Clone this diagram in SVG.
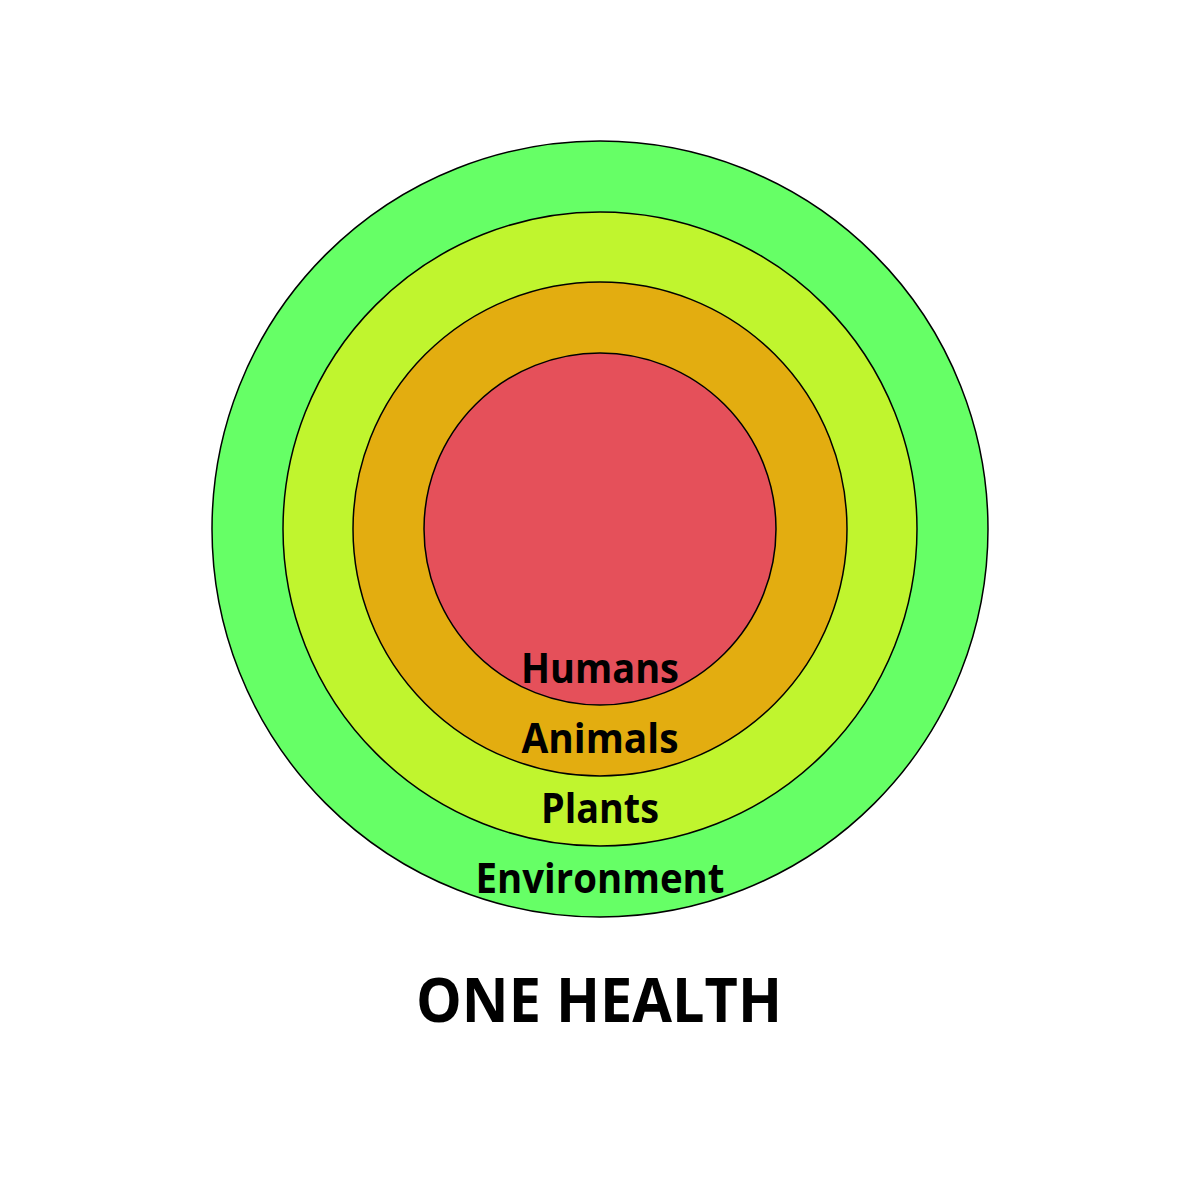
<svg xmlns="http://www.w3.org/2000/svg" width="1200" height="1200" viewBox="0 0 1200 1200">
<style>
circle{stroke:#000;stroke-width:1.5}
text{font-family:"Open Sans","Liberation Sans",sans-serif;font-weight:bold;fill:#000;text-anchor:middle}
.l{font-size:42px}
</style>
<rect width="1200" height="1200" fill="#fff"/>
<g id="environment"><circle cx="600" cy="529" r="388" fill="#66FF66"/></g>
<g id="plants"><circle cx="600" cy="529" r="317" fill="#C0F52E"/></g>
<g id="animals"><circle cx="600" cy="529" r="247" fill="#E3AD10"/></g>
<g id="humans"><circle cx="600" cy="529" r="176" fill="#E5505A"/></g>
<g id="labels">
<text class="l" x="600" y="683" textLength="158" lengthAdjust="spacingAndGlyphs">Humans</text>
<text class="l" x="600" y="753" textLength="157" lengthAdjust="spacingAndGlyphs">Animals</text>
<text class="l" x="600" y="823" textLength="118" lengthAdjust="spacingAndGlyphs">Plants</text>
<text class="l" x="600" y="893" textLength="249" lengthAdjust="spacingAndGlyphs">Environment</text>
</g>
<g id="title"><text x="599" y="1022" font-size="61" textLength="366" lengthAdjust="spacingAndGlyphs">ONE HEALTH</text></g>
</svg>
